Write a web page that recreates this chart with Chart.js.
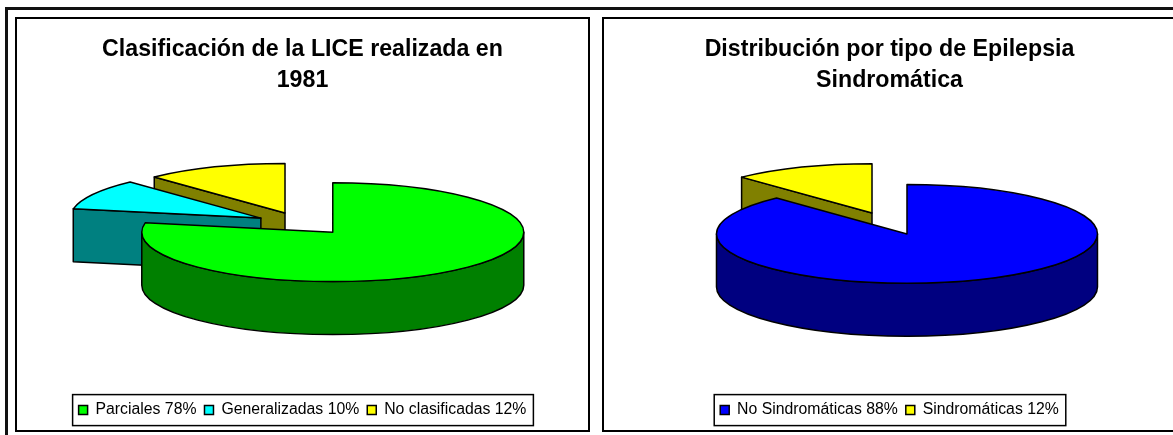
<!DOCTYPE html>
<html>
<head>
<meta charset="utf-8">
<title>Epilepsia</title>
<script src="https://cdn.jsdelivr.net/npm/chart.js@4"></script>
<style>
    html, body { margin: 0; padding: 0; background: #fff; overflow: hidden; }
    body { width: 1173px; height: 435px; position: relative; }
    #marco { position: absolute; left: 5px; top: 7px; width: 1300px; height: 600px; border: 3px solid #111; box-sizing: border-box; }
    .panel { position: absolute; top: 17px; height: 411px; border: 2px solid #000; background: #fff; }
    .panel canvas { display: block; }
    #panel1 { left: 15px; width: 571px; }
    #panel2 { left: 602px; width: 571px; }
</style>
</head>
<body>
<div id="marco"></div>
<div class="panel" id="panel1"><canvas id="lice" width="571" height="411"></canvas></div>
<div class="panel" id="panel2"><canvas id="sindrome" width="571" height="411"></canvas></div>

<script>
const tituloLice = ['Clasificación de la LICE realizada en', '1981'];
const categoriasLice = ['Parciales', 'Generalizadas', 'No clasificadas'];
const valoresLice = [78, 10, 12];
const coloresLice = ['#00ff00', '#00ffff', '#ffff00'];
const ladosLice = ['#008000', '#008080', '#808000'];

const tituloSindrome = ['Distribución por tipo de Epilepsia', 'Sindromática'];
const categoriasSindrome = ['No Sindromáticas', 'Sindromáticas'];
const valoresSindrome = [88, 12];
const coloresSindrome = ['#0000ff', '#ffff00'];
const ladosSindrome = ['#000080', '#808000'];

const FUENTE = '"Liberation Sans", Arial, sans-serif';

// chart.js no tiene pie 3D: se dibuja aplastado a partir de los arcos que calcula la libreria
const pie3d = {
    id: 'pie3d',
    beforeDatasetsDraw(chart, args, opts) {
        const ctx = chart.ctx;
        const arcos = chart.getDatasetMeta(0).data.map((arco, i) => ({ arco, i }));
        const medio = (a) => (a.startAngle + a.endAngle) / 2;
        // primero los de atras
        arcos.sort((a, b) => Math.sin(medio(a.arco)) - Math.sin(medio(b.arco)));

        arcos.forEach(({ arco, i }) => {
            const m = medio(arco);
            const r = arco.outerRadius;
            const ry = r * opts.aplaste;
            const cx = arco.x + Math.cos(m) * opts.separaX;
            const cy = opts.centroY + Math.sin(m) * opts.separaY;
            const h = opts.alto;

            ctx.save();
            ctx.lineWidth = arco.options.borderWidth;
            ctx.strokeStyle = arco.options.borderColor;
            ctx.lineJoin = 'round';
            ctx.fillStyle = opts.lados[i];

            // caras del corte, solo las que miran hacia adelante
            const caras = [];
            if (-Math.cos(arco.startAngle) > 0.001) caras.push(arco.startAngle);
            if (Math.cos(arco.endAngle) > 0.001) caras.push(arco.endAngle);
            caras.forEach((a) => {
                const px = cx + r * Math.cos(a);
                const py = cy + ry * Math.sin(a);
                ctx.beginPath();
                ctx.moveTo(cx, cy);
                ctx.lineTo(px, py);
                ctx.lineTo(px, py + h);
                ctx.lineTo(cx, cy + h);
                ctx.closePath();
                ctx.fill();
                ctx.stroke();
            });

            // pared curva, solo la parte de adelante
            const ini = Math.max(arco.startAngle, 0);
            const fin = Math.min(arco.endAngle, Math.PI);
            if (fin > ini) {
                ctx.beginPath();
                ctx.ellipse(cx, cy, r, ry, 0, ini, fin);
                ctx.ellipse(cx, cy + h, r, ry, 0, fin, ini, true);
                ctx.closePath();
                ctx.fill();
                ctx.stroke();
            }

            // tapa
            ctx.fillStyle = arco.options.backgroundColor;
            ctx.beginPath();
            ctx.moveTo(cx, cy);
            ctx.ellipse(cx, cy, r, ry, 0, arco.startAngle, arco.endAngle);
            ctx.closePath();
            ctx.fill();
            ctx.stroke();
            ctx.restore();
        });
        return false;
    }
};

// recuadro alrededor de la leyenda
const marcoLeyenda = {
    id: 'marcoLeyenda',
    beforeDraw(chart) {
        const cajas = chart.legend.legendHitBoxes;
        const ctx = chart.ctx;
        const izq = cajas[0].left - 6;
        const der = cajas[cajas.length - 1].left + cajas[cajas.length - 1].width + 7;
        const medioY = cajas[0].top + cajas[0].height / 2;
        ctx.save();
        ctx.strokeStyle = '#000';
        ctx.lineWidth = 1.5;
        ctx.strokeRect(izq, medioY - 15.5, der - izq, 31);
        ctx.restore();
    }
};

function crearPie(id, titulo, categorias, valores, colores, lados, radio) {
    return new Chart(document.getElementById(id), {
        type: 'pie',
        data: {
            labels: categorias.map((c, i) => c + ' ' + valores[i] + '%'),
            datasets: [{
                data: valores,
                backgroundColor: colores,
                borderColor: '#000',
                borderWidth: 1.5,
                radius: radio
            }]
        },
        plugins: [marcoLeyenda, pie3d],
        options: {
            responsive: false,
            animation: false,
            layout: { padding: { bottom: 2 } },
            plugins: {
                title: {
                    display: true,
                    text: titulo,
                    color: '#000',
                    font: { family: FUENTE, size: 23.2, weight: 'bold', lineHeight: 1.34 },
                    padding: { top: 15, bottom: 10 }
                },
                legend: {
                    position: 'bottom',
                    labels: {
                        color: '#000',
                        font: { family: FUENTE, size: 15.8 },
                        boxWidth: 9,
                        boxHeight: 9,
                        padding: 8
                    }
                },
                tooltip: { enabled: false },
                pie3d: { lados: lados, aplaste: 0.259, separaX: 47.5, separaY: 11.2, alto: 53, centroY: 204.5 }
            }
        }
    });
}

crearPie('lice', tituloLice, categoriasLice, valoresLice, coloresLice, ladosLice, 191);
crearPie('sindrome', tituloSindrome, categoriasSindrome, valoresSindrome, coloresSindrome, ladosSindrome, 190.5);
</script>
</body>
</html>
